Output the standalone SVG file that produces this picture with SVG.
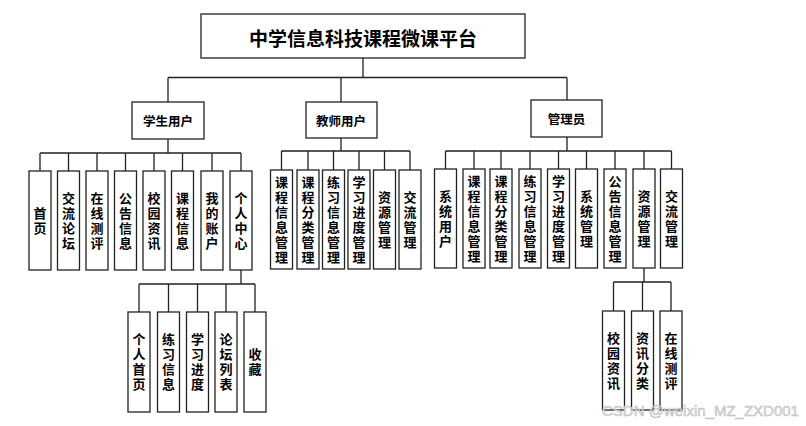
<svg xmlns="http://www.w3.org/2000/svg" width="806" height="426" viewBox="0 0 806 426">
<style>
.box{fill:#fff;stroke:#222;stroke-width:1.3}
.ln{fill:none;stroke:#222;stroke-width:1.3}
.t{font-family:"Noto Sans CJK SC","Noto Sans CJK JP",sans-serif;font-weight:bold;fill:#000;text-anchor:middle;dominant-baseline:central}
.v{font-family:"Noto Sans CJK SC","Noto Sans CJK JP",sans-serif;font-weight:bold;fill:#000;text-anchor:middle;font-size:13px;writing-mode:vertical-rl;letter-spacing:2px}
.g{font-size:12.5px}
.wm{font-family:"Liberation Sans",Arial,sans-serif;font-size:15px;fill:#e0e0e0;stroke:#bbb;stroke-width:0.5}
</style>
<rect width="806" height="426" fill="#fff"/>
<g id="connectors">
<path class="ln" d="M363 58V77.5M168 77.5H567M168 77.5V102M341 77.5V102M567 77.5V100"/>
<path class="ln" d="M168 139V153M40 153H241M40 153V171M68.5 153V171M97 153V171M125.5 153V171M154 153V171M182.5 153V171M212 153V171M241 153V171"/>
<path class="ln" d="M341 138V151M281.5 151H410M281.5 151V170M308 151V170M333.5 151V170M359 151V170M384.5 151V170M410 151V170"/>
<path class="ln" d="M567 137V151M445.5 151H671.5M445.5 151V169M474 151V169M501 151V169M530 151V169M558.5 151V169M586.5 151V169M615 151V169M644 151V169M671.5 151V169"/>
<path class="ln" d="M241 270V284M139 284H255M139 284V312M168.5 284V312M197.5 284V312M226 284V312M255 284V312"/>
<path class="ln" d="M644 268V282M613.5 282H671M613.5 282V311M642.5 282V311M671 282V311"/>
</g>
<g id="root"><rect class="box" x="201" y="14" width="324" height="44"/><text class="t" x="363" y="37" font-size="19">中学信息科技课程微课平台</text></g>
<g id="student"><rect class="box" x="132" y="102" width="72" height="37"/><text class="t g" x="168" y="120.5">学生用户</text></g>
<g id="teacher"><rect class="box" x="306" y="102" width="71" height="36"/><text class="t g" x="341" y="120">教师用户</text></g>
<g id="admin"><rect class="box" x="531" y="100" width="71" height="37"/><text class="t g" x="566.5" y="118.5">管理员</text></g>

<g id="s1"><rect class="box" x="29" y="171" width="22" height="99"/><text class="v" x="40" y="221.5">首页</text></g>
<g id="s2"><rect class="box" x="57.5" y="171" width="22" height="99"/><text class="v" x="68.5" y="221.5">交流论坛</text></g>
<g id="s3"><rect class="box" x="86" y="171" width="22" height="99"/><text class="v" x="97" y="221.5">在线测评</text></g>
<g id="s4"><rect class="box" x="114.5" y="171" width="22" height="99"/><text class="v" x="125.5" y="221.5">公告信息</text></g>
<g id="s5"><rect class="box" x="143" y="171" width="22" height="99"/><text class="v" x="154" y="221.5">校园资讯</text></g>
<g id="s6"><rect class="box" x="171.5" y="171" width="22" height="99"/><text class="v" x="182.5" y="221.5">课程信息</text></g>
<g id="s7"><rect class="box" x="201" y="171" width="22" height="99"/><text class="v" x="212" y="221.5">我的账户</text></g>
<g id="s8"><rect class="box" x="230" y="171" width="22" height="99"/><text class="v" x="241" y="221.5">个人中心</text></g>

<g id="t1"><rect class="box" x="270.5" y="170" width="22" height="99"/><text class="v" x="281.5" y="220.5">课程信息管理</text></g>
<g id="t2"><rect class="box" x="297" y="170" width="22" height="99"/><text class="v" x="308" y="220.5">课程分类管理</text></g>
<g id="t3"><rect class="box" x="322.5" y="170" width="22" height="99"/><text class="v" x="333.5" y="220.5">练习信息管理</text></g>
<g id="t4"><rect class="box" x="348" y="170" width="22" height="99"/><text class="v" x="359" y="220.5">学习进度管理</text></g>
<g id="t5"><rect class="box" x="373.5" y="170" width="22" height="99"/><text class="v" x="384.5" y="220.5">资源管理</text></g>
<g id="t6"><rect class="box" x="399" y="170" width="22" height="99"/><text class="v" x="410" y="220.5">交流管理</text></g>

<g id="a1"><rect class="box" x="434.5" y="169" width="22" height="99"/><text class="v" x="445.5" y="219.5">系统用户</text></g>
<g id="a2"><rect class="box" x="463" y="169" width="22" height="99"/><text class="v" x="474" y="219.5">课程信息管理</text></g>
<g id="a3"><rect class="box" x="490" y="169" width="22" height="99"/><text class="v" x="501" y="219.5">课程分类管理</text></g>
<g id="a4"><rect class="box" x="519" y="169" width="22" height="99"/><text class="v" x="530" y="219.5">练习信息管理</text></g>
<g id="a5"><rect class="box" x="547.5" y="169" width="22" height="99"/><text class="v" x="558.5" y="219.5">学习进度管理</text></g>
<g id="a6"><rect class="box" x="575.5" y="169" width="22" height="99"/><text class="v" x="586.5" y="219.5">系统管理</text></g>
<g id="a7"><rect class="box" x="604" y="169" width="22" height="99"/><text class="v" x="615" y="219.5">公告信息管理</text></g>
<g id="a8"><rect class="box" x="633" y="169" width="22" height="99"/><text class="v" x="644" y="219.5">资源管理</text></g>
<g id="a9"><rect class="box" x="660.5" y="169" width="22" height="99"/><text class="v" x="671.5" y="219.5">交流管理</text></g>

<g id="p1"><rect class="box" x="128" y="312" width="22" height="100"/><text class="v" x="139" y="363">个人首页</text></g>
<g id="p2"><rect class="box" x="157.5" y="312" width="22" height="100"/><text class="v" x="168.5" y="363">练习信息</text></g>
<g id="p3"><rect class="box" x="186.5" y="312" width="22" height="100"/><text class="v" x="197.5" y="363">学习进度</text></g>
<g id="p4"><rect class="box" x="215" y="312" width="22" height="100"/><text class="v" x="226" y="363">论坛列表</text></g>
<g id="p5"><rect class="box" x="244" y="312" width="22" height="100"/><text class="v" x="255" y="363">收藏</text></g>

<g id="r1"><rect class="box" x="602.5" y="311" width="22" height="99"/><text class="v" x="613.5" y="361.5">校园资讯</text></g>
<g id="r2"><rect class="box" x="631.5" y="311" width="22" height="99"/><text class="v" x="642.5" y="361.5">资讯分类</text></g>
<g id="r3"><rect class="box" x="660" y="311" width="22" height="99"/><text class="v" x="671" y="361.5">在线测评</text></g>

<text class="wm" x="602" y="416">CSDN @weixin_MZ_ZXD001</text>
</svg>
